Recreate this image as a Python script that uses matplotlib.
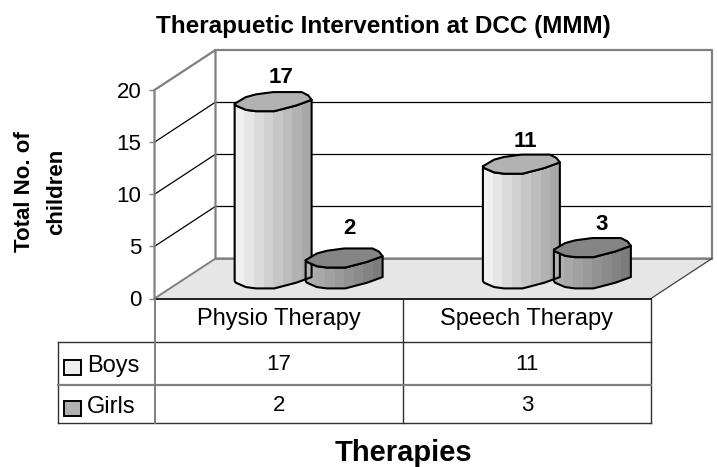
import matplotlib
matplotlib.use("Agg")
import matplotlib.pyplot as plt
import numpy as np
from matplotlib.patches import Polygon, Rectangle
from matplotlib.transforms import Affine2D

plt.rcParams['font.family'] = ['Liberation Sans', 'DejaVu Sans']

# data
therapies = ['Physio Therapy', 'Speech Therapy']
boys = [17, 11]
girls = [2, 3]
yticks = [0, 5, 10, 15, 20]

W, H = 717, 467
fig = plt.figure(figsize=(W / 100, H / 100), dpi=100)

# overlay in pixels for walls, table and text
bg = fig.add_axes([0, 0, 1, 1], zorder=0)
bg.set_xlim(0, W)
bg.set_ylim(H, 0)
bg.axis('off')

# front plane of the chart
X0, X1, Y0, Y1 = 154.5, 651, 298.5, 90
ax = fig.add_axes([X0 / W, 1 - Y0 / H, (X1 - X0) / W, (Y0 - Y1) / H], zorder=1)
ax.set_xlim(0, 2)
ax.set_ylim(0, 20)
ax.patch.set_alpha(0)
for s in ax.spines.values():
    s.set_visible(False)
ax.set_xticks([])
ax.set_yticks(yticks)
ax.set_yticklabels([str(v) for v in yticks], fontsize=16)
ax.tick_params(axis='y', length=4, width=1, color='#808080', pad=5.5)

DX, DY = 61, 40
# floor
bg.add_patch(Polygon([(X0, Y0), (X1, Y0), (X1 + DX, Y0 - DY), (X0 + DX, Y0 - DY)],
                     fc='#e6e6e6', ec='none'))
wall = dict(color='#808080', lw=1.6, solid_capstyle='round')
grid = dict(color='black', lw=0.9)
to_px = lambda v: Y0 - (Y0 - Y1) * v / 20
for v in yticks[1:-1]:
    bg.plot([X0, X0 + DX], [to_px(v), to_px(v) - DY], **grid)
    bg.plot([X0 + DX, X1 + DX], [to_px(v) - DY, to_px(v) - DY], **grid)
bg.plot([X0, X0, X0 + DX, X1 + DX, X1 + DX, X0 + DX, X0 + DX], [Y0, Y1, Y1 - DY, Y1 - DY, Y0 - DY, Y0 - DY, Y1 - DY], **wall)
bg.plot([X0 + DX, X1 + DX], [Y0 - DY, Y0 - DY], color='#808080', lw=1.2)
bg.plot([X0, X0 + DX], [Y0, Y0 - DY], color='#808080', lw=1.4)
bg.plot([X1, X1 + DX], [Y0, Y0 - DY], color='#404040', lw=0.9)
bg.plot([X0, X1], [Y0, Y0], color='#202020', lw=1.4)

# the bumpy outline of the bars, as a unit shape
upper_u = np.array([-1, -0.71, -0.45, 0, 0.4, 0.74, 0.91, 1])
upper_v = np.array([-0.2, 0.48, 0.76, 1, 1, 1, 0.66, 0.2])
low_u = np.array([-1, -0.97, -0.71, -0.45, 0.03, 0.6, 1])
low_v = np.array([-0.2, -0.38, -0.83, -0.97, -0.97, -0.38, 0.2])

HALF_W, HALF_H = 0.155, 0.93
depth = Affine2D().translate(30, 19.5)


def draw_bar(xc, value, light, dark, top_col, nudge):
    tr = ax.transData + depth
    lx = xc + low_u * HALF_W
    body = np.column_stack([
        np.r_[lx, lx[::-1]],
        np.r_[low_v * HALF_H, value + low_v[::-1] * HALF_H],
    ])
    outline = Polygon(body, closed=True, fc='none', ec='black', lw=1.5, transform=tr, zorder=4, joinstyle='round')
    ax.add_patch(outline)
    # shading strips
    n = 8
    edges = np.linspace(xc - HALF_W, xc + HALF_W, n + 1)
    c0 = np.array(matplotlib.colors.to_rgb(light))
    c1 = np.array(matplotlib.colors.to_rgb(dark))
    strips = ax.bar((edges[:-1] + edges[1:]) / 2, value + 4 * HALF_H, width=edges[1] - edges[0],
                    bottom=-2 * HALF_H, color=[c0 + (c1 - c0) * i / (n - 1) for i in range(n)],
                    edgecolor='none', transform=tr, zorder=3)
    for r in strips:
        r.set_clip_path(outline)
    top = np.column_stack([
        xc + np.r_[upper_u, low_u[::-1][1:-1]] * HALF_W,
        value + np.r_[upper_v, low_v[::-1][1:-1]] * HALF_H,
    ])
    ax.add_patch(Polygon(top, closed=True, fc=top_col, ec='black', lw=1.5, transform=tr, zorder=5, joinstyle='round'))
    ax.annotate(str(value), (xc, value), xycoords=tr, xytext=nudge, textcoords='offset pixels',
                ha='center', va='center', fontsize=16, fontweight='bold', zorder=6, annotation_clip=False)


# label offsets from the middle of each bar top
nudges_b = [(8, 24), (4, 23)]
nudges_g = [(5, 30), (9, 23)]
for i, name in enumerate(therapies):
    draw_bar(i + 0.5 - 0.143, boys[i], '#f0f0f0', '#a8a8a8', '#b2b2b2', nudges_b[i])
    draw_bar(i + 0.5 + 0.143, girls[i], '#b0b0b0', '#7c7c7c', '#858585', nudges_g[i])

# data table
tx0, tx2 = 57.5, 403
ty0, ty1, ty2 = 341.7, 385, 423.3
line = dict(color='#303030', lw=1.0)
bg.plot([tx0, X1], [ty0, ty0], **line)
bg.plot([tx0, X1], [ty2, ty2], **line)
bg.plot([tx0, tx0], [ty0, ty2], **line)
bg.plot([tx2, tx2], [Y0, ty2], **line)
bg.plot([X1, X1], [Y0, ty2], **line)
bg.plot([tx0, X1], [ty1, ty1], color='#808080', lw=1.6)
bg.plot([X0, X0], [Y0, ty2], color='#808080', lw=1.4)

cols = [(X0 + tx2) / 2, (tx2 + X1) / 2]
for c, name, b, g in zip(cols, therapies, boys, girls):
    bg.text(c, 325, name, ha='center', va='baseline', fontsize=17)
    bg.text(c, 370, str(b), ha='center', va='baseline', fontsize=16)
    bg.text(c, 411, str(g), ha='center', va='baseline', fontsize=16)

bg.add_patch(Rectangle((63.5, 360), 17, 15, fc='#eeeeee', ec='black', lw=1.4))
bg.add_patch(Rectangle((63.5, 401), 17, 15, fc='#b0b0b0', ec='black', lw=1.4))
bg.text(87, 372, 'Boys', va='baseline', fontsize=17)
bg.text(87, 413, 'Girls', va='baseline', fontsize=17)

bg.text(383, 26, 'Therapuetic Intervention at DCC (MMM)', ha='center', va='center',
        fontsize=17.5, fontweight='bold')
bg.text(403, 453, 'Therapies', ha='center', va='center', fontsize=21, fontweight='bold')
bg.text(41, 192, 'Total No. of\nchildren', rotation=90, ha='center', va='center', ma='center',
        fontsize=16, fontweight='bold', linespacing=1.7)

fig.savefig('out.png', dpi=100)
